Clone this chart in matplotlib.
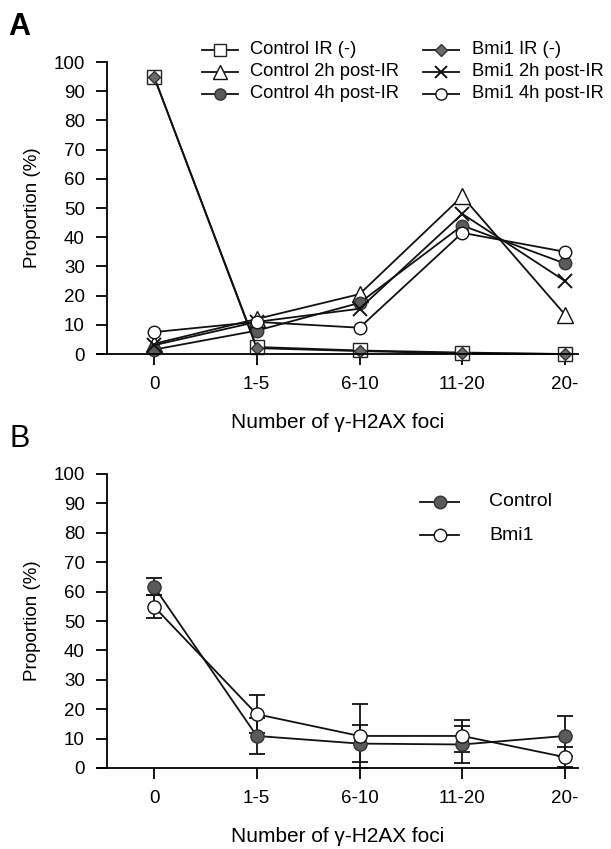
import matplotlib
matplotlib.use("Agg")
import matplotlib.pyplot as plt
from matplotlib.lines import Line2D

plt.rcParams['font.family'] = ['Liberation Sans', 'DejaVu Sans']

categories = ["0", "1-5", "6-10", "11-20", "20-"]

# Panel A
ctrl_ir_neg = [95, 2.4, 1.2, 0.5, 0.0]
bmi1_ir_neg = [95, 2.0, 1.0, 0.2, 0.0]
ctrl_2h = [3.5, 12.0, 20.5, 54.0, 13.5]
bmi1_2h = [3.0, 11.0, 15.5, 48.0, 25.0]
ctrl_4h = [1.5, 8.0, 17.5, 44.0, 31.0]
bmi1_4h = [7.5, 11.0, 9.0, 41.5, 35.0]

# Panel B
ctrl_b = [61.7, 10.9, 8.3, 8.0, 10.9]
ctrl_b_err = [3.0, 6.2, 6.2, 6.4, 6.7]
bmi1_b = [54.9, 18.3, 10.9, 10.9, 3.7]
bmi1_b_err = [3.8, 6.4, 10.9, 5.3, 3.4]

W, H = 611, 849
fig = plt.figure(figsize=(W/100, H/100), dpi=100)

X0, DX = 154, 102.75          # pixel of first category, spacing
XL, XR, YAX = 97, 578, 107    # x-axis start/end, y-axis position

def make_ax(y0px, y100px):
    ax = fig.add_axes([XL/W, 1 - y0px/H, (XR-XL)/W, (y0px-y100px)/H])
    ax.set_xlim(-(X0-XL)/DX, 4 + (XR-(X0+4*DX))/DX)
    ax.set_ylim(0, 100)
    ax.spines['top'].set_visible(False)
    ax.spines['right'].set_visible(False)
    ax.spines['left'].set_position(('data', -(X0-YAX)/DX))
    for s in ax.spines.values():
        s.set_linewidth(1.3)
    ax.set_yticks(range(0, 101, 10))
    ax.set_xticks(range(len(categories)))
    ax.set_xticklabels(categories)
    ax.tick_params(axis='y', direction='out', length=8, width=1.3, pad=8, labelsize=13.5)
    ax.tick_params(axis='x', direction='out', length=8, width=1.3, pad=8, labelsize=13.5)
    ax.set_ylabel("Proportion (%)", fontsize=13.5, labelpad=9)
    ax.set_xlabel("Number of γ-H2AX foci", fontsize=15, labelpad=14)
    ax.patch.set_visible(False)
    return ax

x = list(range(len(categories)))
lw = 1.3
ink = '#111111'

axA = make_ax(354, 62)
styles = [
    (ctrl_ir_neg, dict(marker='s', mfc='white', mec='#222222', ms=10), "Control IR (-)"),
    (ctrl_2h, dict(marker='^', mfc='white', mec=ink, ms=11), "Control 2h post-IR"),
    (ctrl_4h, dict(marker='o', mfc='#5a5a5a', mec='#333333', ms=9), "Control 4h post-IR"),
    (bmi1_ir_neg, dict(marker='D', mfc='#6a6a6a', mec='#333333', ms=6.5), "Bmi1 IR (-)"),
    (bmi1_2h, dict(marker='x', mfc=ink, mec=ink, ms=10, mew=1.4), "Bmi1 2h post-IR"),
    (bmi1_4h, dict(marker='o', mfc='white', mec=ink, ms=9), "Bmi1 4h post-IR"),
]
for data, st, lab in styles:
    axA.plot(x, data, color=ink, lw=lw, clip_on=False, **st)

# manual legend A (two columns)
rows_A = [50, 72, 94]
cols_A = [(202, 238, 250), (423, 459, 472)]
for i, (data, st, lab) in enumerate(styles):
    c, r = divmod(i, 3)
    x1, x2, xt = cols_A[c]
    yy = 1 - rows_A[r]/H
    st2 = dict(st)
    st2['ms'] = st['ms'] * 0.9
    fig.add_artist(Line2D([x1/W, x2/W], [yy, yy], color=ink, lw=lw, transform=fig.transFigure))
    fig.add_artist(Line2D([(x1+x2)/2/W], [yy], color=ink, lw=0, transform=fig.transFigure, **st2))
    fig.text(xt/W, yy, lab, fontsize=13.2, va='center', ha='left')

axB = make_ax(768, 474)
for vals, errs, fc, ec in [(ctrl_b, ctrl_b_err, '#5a5a5a', '#333333'),
                           (bmi1_b, bmi1_b_err, 'white', ink)]:
    art = axB.errorbar(x, vals, yerr=errs, color=ink, lw=lw, marker='o',
                       mfc=fc, mec=ec, ms=9.5, capsize=6, capthick=1.3,
                       elinewidth=1.3, clip_on=False)
    for ch in art.get_children():
        ch.set_clip_on(False)

rows_B = [502, 535]
for (lab, fc, ec), yr in zip([('Control', '#5a5a5a', '#333333'), ('Bmi1', 'white', ink)], rows_B):
    yy = 1 - yr/H
    fig.add_artist(Line2D([420/W, 459/W], [yy, yy], color=ink, lw=lw, transform=fig.transFigure))
    fig.add_artist(Line2D([439.5/W], [yy], color=ink, lw=0, marker='o', mfc=fc, mec=ec, ms=9,
                          transform=fig.transFigure))
    fig.text(489/W, yy, lab, fontsize=14, va='center', ha='left')

fig.text(8/W, 1 - 35/H, "A", fontsize=22, fontweight='bold')
fig.text(9/W, 1 - 447/H, "B", fontsize=22)

fig.savefig("out.png", dpi=100)
